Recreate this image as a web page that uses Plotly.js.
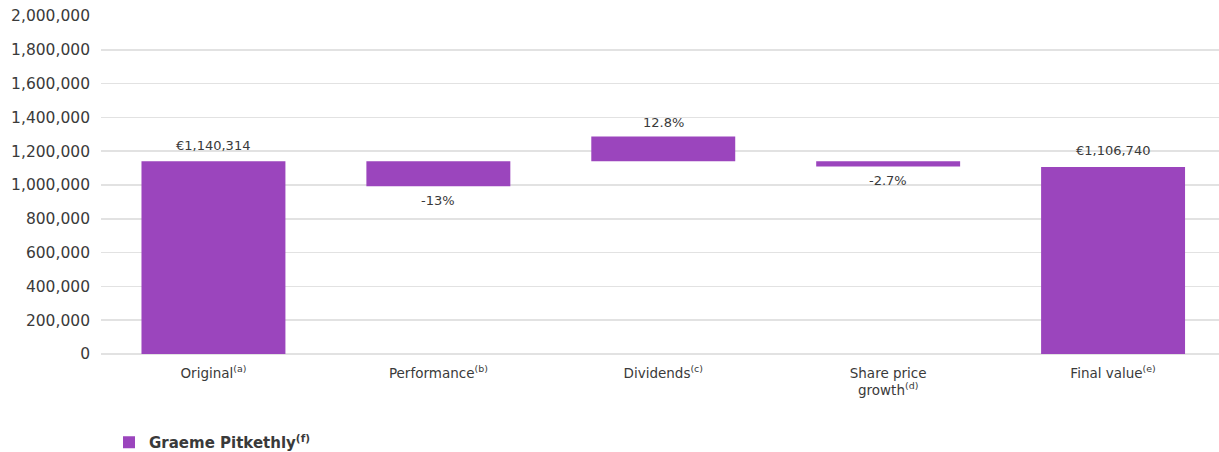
<!DOCTYPE html>
<html>
<head>
<meta charset="utf-8">
<script src="https://cdn.plot.ly/plotly-3.0.1.min.js"></script>
<style>html,body{margin:0;padding:0;background:#fff;}#chart{width:1219px;height:452px;}</style>
</head>
<body>
<div id="chart"></div>
<script>
// Data
var categories = ["Original<sup>(a)</sup>", "Performance<sup>(b)</sup>", "Dividends<sup>(c)</sup>", "Share price<br>growth<sup>(d)</sup>", "Final value<sup>(e)</sup>"];
var bases = [0, 1140314, 1140314, 1140314, 0];
var deltas = [1140314, -148241, 145960, -30788, 1106740];
var labels = ["€1,140,314", "-13%", "12.8%", "-2.7%", "€1,106,740"];
var seriesName = "Graeme Pitkethly<sup>(f)</sup>";
var yTicks = [0, 200000, 400000, 600000, 800000, 1000000, 1200000, 1400000, 1600000, 1800000, 2000000];

var FONT = "DejaVu Sans, Noto Sans, sans-serif";
var xs = categories.map(function(_, i){return i;});

var trace = {
  type: "bar",
  x: xs,
  y: deltas,
  base: bases,
  width: 0.64,
  name: "<b>" + seriesName + "</b>",
  marker: {color: "#9B45BD"},
  hoverinfo: "none",
  showlegend: true
};

var annotations = xs.map(function(i){
  var end = bases[i] + deltas[i];
  var up = deltas[i] >= 0;
  var big = bases[i] === 0;
  return {
    x: i, y: end, xref: "x", yref: "y",
    text: labels[i], showarrow: false,
    yanchor: "middle",
    yshift: up ? (big ? 16 : 14) : -14,
    font: {family: FONT, size: 13, color: "#3a3a3a"}
  };
});

var layout = {
  width: 1219, height: 452,
  margin: {l: 101, r: 0, t: 16, b: 98},
  paper_bgcolor: "#fff", plot_bgcolor: "#fff",
  font: {family: FONT, color: "#3a3a3a"},
  annotations: annotations,
  xaxis: {
    tickmode: "array",
    tickvals: xs,
    ticktext: categories,
    range: [-0.5, 4.471],
    showgrid: false, zeroline: false, showline: false,
    ticks: "",
    ticklabelstandoff: 9,
    tickfont: {family: FONT, size: 13.5, color: "#3a3a3a"}
  },
  yaxis: {
    range: [0, 2000000],
    tickmode: "array",
    tickvals: yTicks,
    ticktext: yTicks.map(function(v){return v.toLocaleString("en-US");}),
    showgrid: true, gridcolor: "#e2e2e2", gridwidth: 1.5,
    zeroline: true, zerolinecolor: "#e2e2e2", zerolinewidth: 1.5,
    showline: false, ticks: "",
    ticklabelstandoff: 10,
    tickfont: {family: FONT, size: 15.5, color: "#3a3a3a"}
  },
  showlegend: true,
  legend: {
    orientation: "h",
    xref: "container", yref: "container",
    x: 109/1219, y: 1 - 426/452,
    xanchor: "left", yanchor: "top",
    font: {family: FONT, size: 15, color: "#3a3a3a"},
    itemwidth: 30
  }
};

Plotly.newPlot("chart", [trace], layout, {displayModeBar: false, staticPlot: true});
</script>
</body>
</html>
